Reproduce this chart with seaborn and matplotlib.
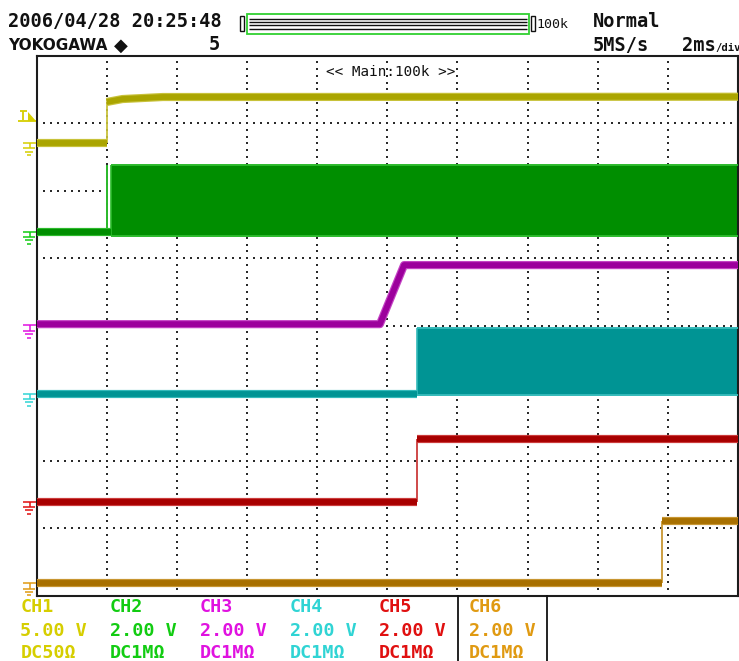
import numpy as np
import pandas as pd
import matplotlib
matplotlib.use("Agg")
import matplotlib.pyplot as plt
from matplotlib.lines import Line2D
from matplotlib.patches import Polygon, Rectangle
import seaborn as sns

W, H = 739, 661

# ---- channel setup ----
channels = ["CH1", "CH2", "CH3", "CH4", "CH5", "CH6"]
volts_per_div = [5.0, 2.0, 2.0, 2.0, 2.0, 2.0]
volts_labels = ["5.00 V", "2.00 V", "2.00 V", "2.00 V", "2.00 V", "2.00 V"]
coupling = ["DC50Ω", "DC1MΩ", "DC1MΩ", "DC1MΩ", "DC1MΩ", "DC1MΩ"]
ground_div = [6.705, 5.39, 4.0, 2.99, 1.39, 0.185]   # ground marker position, divisions from bottom

core_colors = ["#aaa500", "#008e00", "#9c009c", "#009494", "#a80000", "#a87000"]
rim_colors = ["#c8c23a", "#2cba2c", "#c444c4", "#34baba", "#cc3c3c", "#c89632"]
label_colors = ["#d6ce00", "#12cc12", "#e012e0", "#30d4d4", "#e01010", "#e09a12"]

# ---- acquired levels (time in ms, amplitude in V) ----
ch1_t = [0.0, 2.0, 2.0, 2.45, 3.6, 20.0]
ch1_v = [0.0, 0.0, 3.03, 3.25, 3.40, 3.42]
ch2_t = [0.0, 2.0, 2.0, 2.0, 2.115]
ch2_v = [0.0, 0.0, 1.98, 0.0, 0.0]
ch3_t = [0.0, 9.79, 10.48, 20.0]
ch3_v = [0.04, 0.04, 1.79, 1.79]
ch4_t = [0.0, 10.84]
ch4_v = [0.0, 0.0]
ch5_t = [0.0, 10.84, 10.84, 20.0]
ch5_v = [0.0, 0.0, 1.85, 1.85]
ch6_t = [0.0, 17.82, 17.82, 20.0]
ch6_v = [0.0, 0.0, 1.85, 1.85]

# switching bursts: (start ms, low V, high V)
ch2_burst = (2.115, -0.12, 1.98)
ch4_burst = (10.84, -0.03, 1.94)

trace_t = [ch1_t, ch2_t, ch3_t, ch4_t, ch5_t, ch6_t]
trace_v = [ch1_v, ch2_v, ch3_v, ch4_v, ch5_v, ch6_v]
bursts = {1: ch2_burst, 3: ch4_burst}

T_END = 20.0   # 10 div x 2 ms/div
N_VDIV = 8


def to_div(i, v):
    return ground_div[i] + np.asarray(v, dtype=float) / volts_per_div[i]


# split each trace into sloped/flat pieces and vertical edges
rows, edges = [], []
piece = 0
for i, ch in enumerate(channels):
    t = trace_t[i]
    d = to_div(i, trace_v[i])
    cur = [(t[0], d[0])]
    for k in range(1, len(t)):
        if t[k] == t[k - 1]:
            edges.append((i, t[k], d[k - 1], d[k]))
            if len(cur) > 1:
                for tt, dd in cur:
                    rows.append((ch, piece, tt, dd))
                piece += 1
            cur = [(t[k], d[k])]
        else:
            cur.append((t[k], d[k]))
    if len(cur) > 1:
        for tt, dd in cur:
            rows.append((ch, piece, tt, dd))
        piece += 1
df = pd.DataFrame(rows, columns=["channel", "piece", "t", "div"])

sns.set_theme(style="white")
plt.rcParams["font.family"] = ["DejaVu Sans"]

fig = plt.figure(figsize=(W / 100, H / 100), dpi=100)
fig.patch.set_facecolor("white")
ax = fig.add_axes([36.5 / W, 1 - 595.5 / H, 701.5 / W, 540 / H])
ax.set_xlim(0, T_END)
ax.set_ylim(0, N_VDIV)
ax.set_facecolor("white")
ax.set_xticks([])
ax.set_yticks([])
for s in ax.spines.values():
    s.set_color("#1c1c1c")
    s.set_linewidth(1.5)

# dotted graticule
gx, gy = [], []
for xv in np.arange(2, T_END, 2):
    for yv in np.arange(0.1, N_VDIV, 0.1):
        gx.append(xv); gy.append(yv)
for yv in range(1, N_VDIV):
    for xv in np.arange(0.2, T_END, 0.2):
        gx.append(xv); gy.append(yv)
ax.scatter(gx, gy, marker="s", s=1.3, color="#2a2a2a", linewidths=0, zorder=1)

# switching bursts
for i, (t0, lo, hi) in bursts.items():
    lo_d, hi_d = to_div(i, lo), to_div(i, hi)
    ax.fill_between([t0, T_END], lo_d, hi_d, color=core_colors[i], lw=0, zorder=2)
    ax.hlines([lo_d, hi_d], t0, T_END, color=rim_colors[i], lw=1.4, zorder=3)
    ax.vlines(t0, lo_d, hi_d, color=rim_colors[i], lw=1.2, zorder=3)

# vertical edges (thin)
for i, t0, d0, d1 in edges:
    ax.vlines(t0, d0, d1, color=rim_colors[i], lw=1.3, zorder=3)

# thick trace bands
pal_rim = dict(zip(channels, rim_colors))
pal_core = dict(zip(channels, core_colors))
sns.lineplot(data=df, x="t", y="div", hue="channel", units="piece", estimator=None,
             sort=False, palette=pal_rim, lw=5.9, legend=False, ax=ax,
             solid_capstyle="butt", zorder=4)
sns.lineplot(data=df, x="t", y="div", hue="channel", units="piece", estimator=None,
             sort=False, palette=pal_core, lw=4.2, legend=False, ax=ax,
             solid_capstyle="butt", zorder=5)
ax.set_xlabel("")
ax.set_ylabel("")
ax.set_xlim(0, T_END)
ax.set_ylim(0, N_VDIV)

ax.text(0.5053, 0.982, "<< Main:100k >>", transform=ax.transAxes, ha="center", va="top",
        family="DejaVu Sans Mono", fontsize=10.3, color="#111111", zorder=6)


def fline(xs, ys, color, lw=1.1):
    fig.add_artist(Line2D([x / W for x in xs], [1 - y / H for y in ys],
                          transform=fig.transFigure, color=color, lw=lw,
                          solid_capstyle="butt"))


# ground markers at the left edge
fig.canvas.draw()
for i in range(len(channels)):
    yd = ax.transData.transform((0, ground_div[i]))[1]
    y0 = H - yd
    c = label_colors[i]
    fline([23.3, 36], [y0, y0], c)
    fline([29.5, 29.5], [y0, y0 + 5.5], c)
    fline([22.7, 35], [y0 + 5.5, y0 + 5.5], c)
    fline([25.3, 32.7], [y0 + 8.7, y0 + 8.7], c)
    fline([27.5, 30.7], [y0 + 12, y0 + 12], c)

# trigger level marker (CH1)
tc = label_colors[0]
fline([19.5, 27], [111, 111], tc, lw=1.3)
fline([23.2, 23.2], [111, 120], tc, lw=1.3)
fline([18, 36], [120.5, 120.5], tc, lw=1.3)
fig.add_artist(Polygon([(28.3 / W, 1 - 112 / H), (28.3 / W, 1 - 120.5 / H), (36 / W, 1 - 120.5 / H)],
                       closed=True, transform=fig.transFigure, color=tc, lw=0))

# header
mono = dict(family="DejaVu Sans Mono", fontsize=13.4, fontweight="bold", color="#111111",
            va="baseline")
fig.text(8 / W, 1 - 27 / H, "2006/04/28 20:25:48", **mono)
fig.text(8 / W, 1 - 50 / H, "YOKOGAWA", family="DejaVu Sans", fontsize=11.0,
         fontweight="bold", color="#111111", va="baseline")
fig.text(114 / W, 1 - 51 / H, "◆", family="DejaVu Sans", fontsize=13, color="#111111",
         va="baseline")
fig.text(209 / W, 1 - 50 / H, "5", **mono)
fig.text(593 / W, 1 - 27 / H, "Normal", **mono)
fig.text(593 / W, 1 - 51 / H, "5MS/s", **mono)
fig.text(682 / W, 1 - 51 / H, "2ms", **mono)
fig.text(715 / W, 1 - 51 / H, "/div", family="DejaVu Sans Mono", fontsize=7.6,
         fontweight="bold", color="#111111", va="baseline")
fig.text(536 / W, 1 - 28.5 / H, "100k", family="DejaVu Sans Mono", fontsize=9.5,
         color="#111111", va="baseline")

# zoom bar
for x0, x1 in [(239.5, 244), (531, 535)]:
    fig.add_artist(Rectangle((x0 / W, 1 - 31 / H), (x1 - x0) / W, 15 / H,
                             transform=fig.transFigure, fill=False, ec="#111111", lw=1.0))
fig.add_artist(Rectangle((246.7 / W, 1 - 34 / H), 282 / W, 20 / H, transform=fig.transFigure,
                         fill=False, ec="#30d030", lw=1.3))
for yy in [19.2, 22.3, 24.6, 28.8]:
    fline([249, 526.5], [yy, yy], "#111111", lw=1.0)

# channel settings table
col_x = [20.5, 110, 200, 289.5, 378.5, 469]
for i in range(len(channels)):
    kw = dict(family="DejaVu Sans Mono", fontsize=13.2, fontweight="bold",
              color=label_colors[i], va="baseline")
    fig.text(col_x[i] / W, 1 - 612.5 / H, channels[i], **kw)
    fig.text(col_x[i] / W, 1 - 635.5 / H, volts_labels[i], **kw)
    fig.text(col_x[i] / W, 1 - 657.5 / H, coupling[i], **kw)
fline([458.3, 458.3], [595, 661], "#111111", lw=1.3)
fline([547.3, 547.3], [595, 661], "#111111", lw=1.3)

fig.savefig("out.png", dpi=100, facecolor="white")
